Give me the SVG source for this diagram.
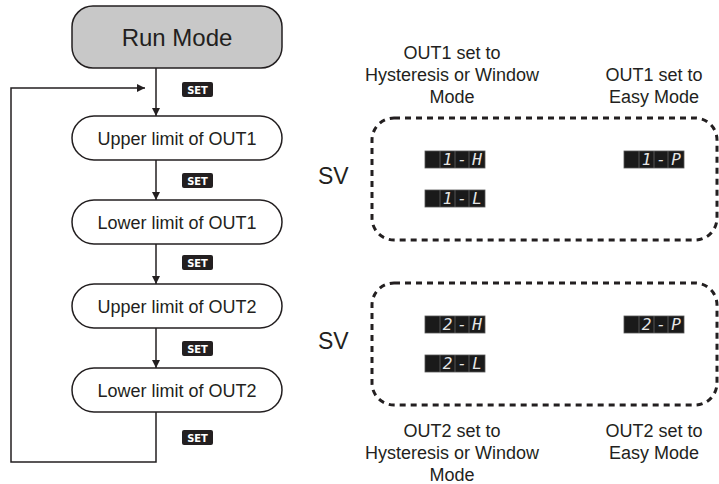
<svg xmlns="http://www.w3.org/2000/svg" width="719" height="484" viewBox="0 0 719 484">
<style>
.node{fill:#fff;stroke:#231f20;stroke-width:1.5}
.run{fill:#c8c8c8;stroke:#231f20;stroke-width:1.5}
.lbl{font-family:"Liberation Sans",Arial,sans-serif;font-size:18px;fill:#231f20;text-anchor:middle}
.big{font-size:24px}
.sv{font-family:"Liberation Sans",Arial,sans-serif;font-size:23px;fill:#231f20}
.line{fill:none;stroke:#231f20;stroke-width:1.5}
.badge{fill:#231f20}
.settxt{font-family:"Liberation Sans Narrow","DejaVu Sans Condensed","Liberation Sans",sans-serif;font-size:11px;font-weight:bold;fill:#fff;text-anchor:middle}
.dot{fill:none;stroke:#231f20;stroke-width:3;stroke-dasharray:6 5}
.disp{fill:#1a1a1a;stroke:#555;stroke-width:0.8}
.sep{stroke:#666;stroke-width:0.8}
.seg{font-family:"DejaVu Sans Mono",monospace;font-style:italic;font-size:16px;fill:#e6e6e6;text-anchor:middle}
</style>
<defs>
<marker id="ah" viewBox="0 0 10 10" refX="10" refY="5" markerWidth="10" markerHeight="8" markerUnits="userSpaceOnUse" orient="auto">
<path d="M0,0 L10,5 L0,10 Z" fill="#231f20"/>
</marker>
<g id="cells">
<rect class="disp" x="0" y="0" width="60" height="17"/>
<line class="sep" x1="15" y1="0" x2="15" y2="17"/>
<line class="sep" x1="30" y1="0" x2="30" y2="17"/>
<line class="sep" x1="44" y1="0" x2="44" y2="17"/>
</g>
</defs>

<g id="connectors">
<line class="line" x1="156" y1="68" x2="156" y2="116" marker-end="url(#ah)"/>
<line class="line" x1="156" y1="160" x2="156" y2="200" marker-end="url(#ah)"/>
<line class="line" x1="156" y1="244" x2="156" y2="284" marker-end="url(#ah)"/>
<line class="line" x1="156" y1="328" x2="156" y2="368" marker-end="url(#ah)"/>
<polyline class="line" points="156,412 156,462 11,462 11,88 145,88" marker-end="url(#ah)"/>
<g id="set-badges">
<rect class="badge" x="182" y="82" width="31" height="15" rx="2"/>
<text class="settxt" x="197.5" y="93.5">SET</text>
<rect class="badge" x="182" y="173" width="31" height="15" rx="2"/>
<text class="settxt" x="197.5" y="184.5">SET</text>
<rect class="badge" x="182" y="255" width="31" height="15" rx="2"/>
<text class="settxt" x="197.5" y="266.5">SET</text>
<rect class="badge" x="182" y="341" width="31" height="15" rx="2"/>
<text class="settxt" x="197.5" y="352.5">SET</text>
<rect class="badge" x="182" y="430" width="31" height="15" rx="2"/>
<text class="settxt" x="197.5" y="441.5">SET</text>
</g>
</g>

<g id="run-mode">
<rect class="run" x="72" y="6" width="210" height="62" rx="21"/>
<text class="lbl big" x="177" y="45.5">Run Mode</text>
</g>
<g id="upper-out1">
<rect class="node" x="72" y="116" width="210" height="44" rx="22"/>
<text class="lbl" x="177" y="144.5">Upper limit of OUT1</text>
</g>
<g id="lower-out1">
<rect class="node" x="72" y="200" width="210" height="44" rx="22"/>
<text class="lbl" x="177" y="228.5">Lower limit of OUT1</text>
</g>
<g id="upper-out2">
<rect class="node" x="72" y="284" width="210" height="44" rx="22"/>
<text class="lbl" x="177" y="312.5">Upper limit of OUT2</text>
</g>
<g id="lower-out2">
<rect class="node" x="72" y="368" width="210" height="44" rx="22"/>
<text class="lbl" x="177" y="396.5">Lower limit of OUT2</text>
</g>

<g id="out1-panel">
<text class="lbl" x="452" y="59">OUT1 set to</text>
<text class="lbl" x="452" y="81">Hysteresis or Window</text>
<text class="lbl" x="452" y="103">Mode</text>
<text class="lbl" x="654" y="81">OUT1 set to</text>
<text class="lbl" x="654" y="103">Easy Mode</text>
<text class="sv" x="318" y="184">SV</text>
<rect class="dot" x="372" y="118" width="345" height="122" rx="22"/>
<g id="disp-1H" transform="translate(425,151)">
<use href="#cells"/>
<text class="seg" x="22.5" y="14">1</text><text class="seg" x="37" y="14">-</text><text class="seg" x="52" y="14">H</text>
</g>
<g id="disp-1L" transform="translate(425,190)">
<use href="#cells"/>
<text class="seg" x="22.5" y="14">1</text><text class="seg" x="37" y="14">-</text><text class="seg" x="52" y="14">L</text>
</g>
<g id="disp-1P" transform="translate(624,151)">
<use href="#cells"/>
<text class="seg" x="22.5" y="14">1</text><text class="seg" x="37" y="14">-</text><text class="seg" x="52" y="14">P</text>
</g>
</g>

<g id="out2-panel">
<text class="sv" x="318" y="349">SV</text>
<rect class="dot" x="372" y="283" width="345" height="122" rx="22"/>
<g id="disp-2H" transform="translate(425,316)">
<use href="#cells"/>
<text class="seg" x="22.5" y="14">2</text><text class="seg" x="37" y="14">-</text><text class="seg" x="52" y="14">H</text>
</g>
<g id="disp-2L" transform="translate(425,355)">
<use href="#cells"/>
<text class="seg" x="22.5" y="14">2</text><text class="seg" x="37" y="14">-</text><text class="seg" x="52" y="14">L</text>
</g>
<g id="disp-2P" transform="translate(624,316)">
<use href="#cells"/>
<text class="seg" x="22.5" y="14">2</text><text class="seg" x="37" y="14">-</text><text class="seg" x="52" y="14">P</text>
</g>
<text class="lbl" x="452" y="437">OUT2 set to</text>
<text class="lbl" x="452" y="459">Hysteresis or Window</text>
<text class="lbl" x="452" y="481">Mode</text>
<text class="lbl" x="654" y="437">OUT2 set to</text>
<text class="lbl" x="654" y="459">Easy Mode</text>
</g>
</svg>
